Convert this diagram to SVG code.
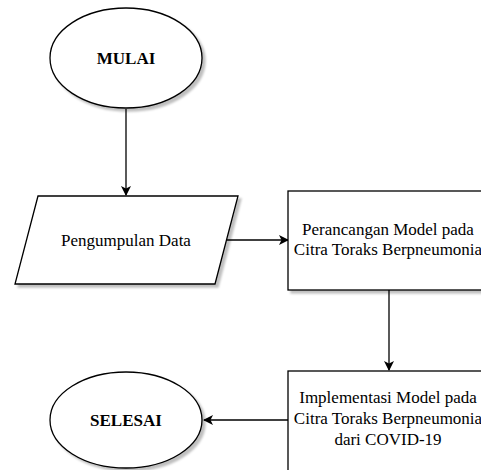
<svg xmlns="http://www.w3.org/2000/svg" width="481" height="470" viewBox="0 0 481 470">
<style>
.s{fill:#fff;stroke:#000;stroke-width:1.3;filter:url(#sh)}
.t{font-family:"Liberation Serif","Times New Roman",serif;font-size:17px;fill:#000;text-anchor:middle}
.b{font-weight:bold}
.c{fill:none;stroke:#000;stroke-width:1.3}
</style>
<defs>
<filter id="sh" x="-10%" y="-10%" width="130%" height="130%">
<feDropShadow dx="3" dy="3" stdDeviation="1.2" flood-color="#000" flood-opacity="0.25"/>
</filter>
<marker id="ah" viewBox="0 0 10 10" refX="9" refY="5" markerWidth="10" markerHeight="10" markerUnits="userSpaceOnUse" orient="auto">
<path d="M0,0 L10,5 L0,10 L2.5,5 Z" fill="#000"/>
</marker>
</defs>
<rect width="481" height="470" fill="#fff"/>
<g id="connectors">
<path class="c" d="M126,109 V195" marker-end="url(#ah)"/>
<path class="c" d="M227,240 H288" marker-end="url(#ah)"/>
<path class="c" d="M389,290 V370" marker-end="url(#ah)"/>
<path class="c" d="M288,420 H204" marker-end="url(#ah)"/>
</g>
<g id="mulai">
<ellipse class="s" cx="126" cy="58" rx="76" ry="50"/>
<text class="t b" x="126" y="64">MULAI</text>
</g>
<g id="pengumpulan">
<polygon class="s" points="38,196 238,196 215,284 15,284"/>
<text class="t" x="126" y="246">Pengumpulan Data</text>
</g>
<g id="perancangan">
<rect class="s" x="288" y="191" width="200" height="99"/>
<text class="t" x="388" y="235">Perancangan Model pada</text>
<text class="t" x="388" y="255">Citra Toraks Berpneumonia</text>
</g>
<g id="implementasi">
<rect class="s" x="288" y="371" width="200" height="110"/>
<text class="t" x="388" y="403">Implementasi Model pada</text>
<text class="t" x="388" y="424">Citra Toraks Berpneumonia</text>
<text class="t" x="388" y="445">dari COVID-19</text>
</g>
<g id="selesai">
<ellipse class="s" cx="126" cy="420" rx="76" ry="48"/>
<text class="t b" x="126" y="426">SELESAI</text>
</g>
</svg>
